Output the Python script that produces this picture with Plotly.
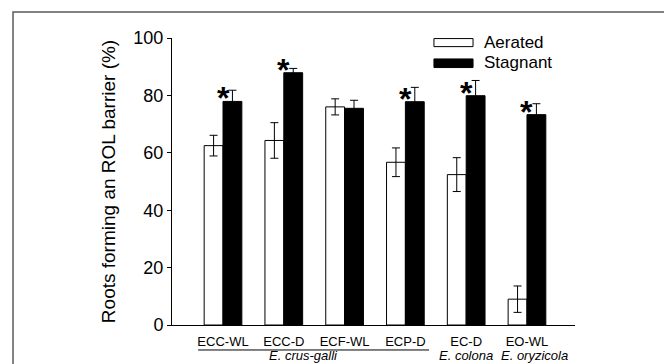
import plotly.graph_objects as go

categories = ["ECC-WL", "ECC-D", "ECF-WL", "ECP-D", "EC-D", "EO-WL"]
aerated = [62.5, 64.3, 76.0, 56.7, 52.4, 9.0]
aerated_err = [3.6, 6.2, 2.8, 5.0, 5.9, 4.6]
stagnant = [77.9, 87.9, 75.5, 77.8, 79.9, 73.3]
stagnant_err = [3.9, 1.5, 2.8, 5.0, 5.3, 3.8]
significant = [True, True, False, True, True, True]
species = ["E. crus-galli", "E. colona", "E. oryzicola"]
species_pos = [1.33, 4.0, 5.13]
y_ticks = [0, 20, 40, 60, 80, 100]

FONT = "Liberation Sans, Arial, sans-serif"
xpos = list(range(len(categories)))

fig = go.Figure()
fig.add_trace(go.Bar(
    x=xpos, y=aerated, name="Aerated",
    marker=dict(color="white", line=dict(color="black", width=1)),
    error_y=dict(type="data", array=aerated_err, color="black", thickness=1, width=4),
    showlegend=False,
))
fig.add_trace(go.Bar(
    x=xpos, y=stagnant, name="Stagnant",
    marker=dict(color="black", line=dict(color="black", width=1)),
    error_y=dict(type="data", array=stagnant_err, color="black", thickness=1, width=4),
    showlegend=False,
))

annotations = []
for i, (v, s) in enumerate(zip(stagnant, significant)):
    if s:
        annotations.append(dict(x=i, y=v + 2.8, xref="x", yref="y", text="<b>*</b>",
                                showarrow=False, font=dict(size=32, color="black", family=FONT),
                                xanchor="center", yanchor="middle", yshift=-5))
for name, p in zip(species, species_pos):
    annotations.append(dict(x=p, y=-0.106, xref="x", yref="paper", text=f"<i>{name}</i>",
                            showarrow=False, font=dict(size=13, color="black", family=FONT),
                            xanchor="center", yanchor="middle"))
# custom legend
annotations.append(dict(x=0.769, y=0.984, xref="paper", yref="paper", text="Aerated",
                        showarrow=False, font=dict(size=17, color="black", family=FONT),
                        xanchor="left", yanchor="middle"))
annotations.append(dict(x=0.769, y=0.913, xref="paper", yref="paper", text="Stagnant",
                        showarrow=False, font=dict(size=17, color="black", family=FONT),
                        xanchor="left", yanchor="middle"))

shapes = [
    # outer frame
    dict(type="rect", xref="paper", yref="paper", x0=-0.3945, x1=1.2357, y0=-0.3, y1=1.0906,
         line=dict(color="#5a5a5a", width=1.5), fillcolor="rgba(0,0,0,0)", layer="below"),
    # species underline
    dict(type="line", xref="x", yref="paper", x0=-0.41, x1=3.39, y0=-0.087, y1=-0.087,
         line=dict(color="black", width=1)),
    # legend boxes
    dict(type="rect", xref="paper", yref="paper", x0=0.650, x1=0.747, y0=0.970, y1=0.998,
         line=dict(color="black", width=1), fillcolor="white"),
    dict(type="rect", xref="paper", yref="paper", x0=0.650, x1=0.747, y0=0.897, y1=0.927,
         line=dict(color="black", width=1), fillcolor="black"),
]

# page body has an 8px default margin, so the figure is sized to fit the window
fig.update_layout(
    width=664, height=356,
    margin=dict(l=164, r=97, t=30, b=39),
    paper_bgcolor="white", plot_bgcolor="white",
    barmode="group", bargap=0.38, bargroupgap=0,
    font=dict(family=FONT, color="black"),
    annotations=annotations, shapes=shapes,
    xaxis=dict(range=[-0.839, 5.79], tickvals=xpos, ticktext=categories,
               showline=True, linecolor="black", linewidth=1, ticks="",
               showgrid=False, zeroline=False, tickfont=dict(size=13, family=FONT),
               ticklabelstandoff=4),
    yaxis=dict(range=[0, 100], tickvals=y_ticks, showline=True, linecolor="black",
               linewidth=1, ticks="outside", ticklen=4, tickcolor="black",
               showgrid=False, zeroline=False, tickfont=dict(size=18, family=FONT),
               ticklabelstandoff=0,
               title=dict(text="Roots forming an ROL barrier (%)",
                          font=dict(size=19, family=FONT), standoff=12)),
)

fig.write_html("out.html")
